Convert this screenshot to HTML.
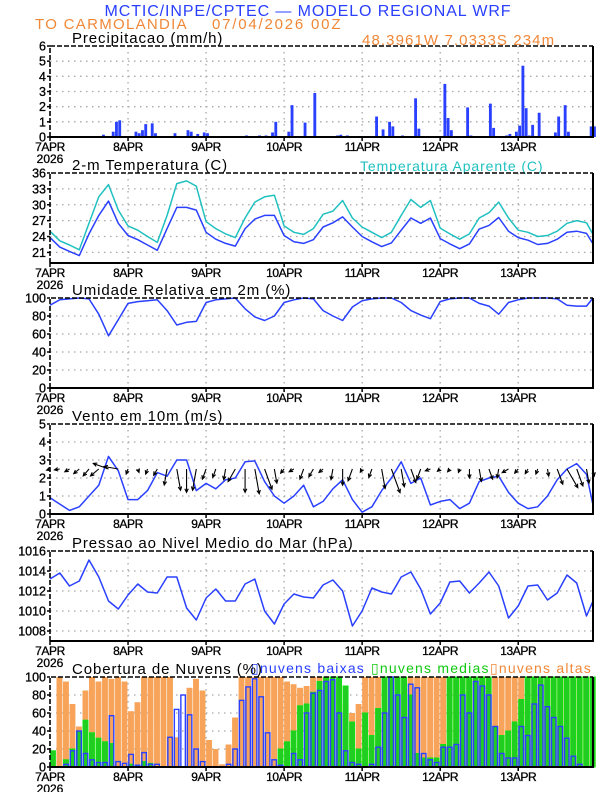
<!DOCTYPE html>
<html><head><meta charset="utf-8">
<style>
html,body{margin:0;padding:0;background:#fff;}
svg{display:block;font-family:"Liberation Sans",sans-serif;}
</style></head>
<body>
<svg id="chart" width="612" height="792" viewBox="0 0 612 792" xmlns="http://www.w3.org/2000/svg">
<text x="308" y="16" font-size="16" fill="#2a40ff" text-anchor="middle" letter-spacing="0.9">MCTIC/INPE/CPTEC — MODELO REGIONAL WRF</text>
<text x="35" y="29" font-size="15" fill="#f08838" letter-spacing="1.3">TO CARMOLANDIA</text>
<text x="212" y="29" font-size="15" fill="#f08838" letter-spacing="1.8">07/04/2026 00Z</text>
<text x="362" y="45" font-size="15" fill="#f08838" letter-spacing="1.1">48.3961W 7.0333S 234m</text>
<text x="360" y="171" font-size="14" fill="#20c0c0" letter-spacing="0.9">Temperatura Aparente (C)</text>
<text x="251" y="673" font-size="14" fill="#2a40ff" letter-spacing="1.2">▯nuvens baixas</text>
<text x="371" y="673" font-size="14" fill="#10c810" letter-spacing="1.2">▯nuvens medias</text>
<text x="490" y="673" font-size="14" fill="#f08838" letter-spacing="1.2">▯nuvens altas</text>
</svg>
<script>
// ---------- DATA ----------
const dayLabels = ["7APR","8APR","9APR","10APR","11APR","12APR","13APR"];
const precipHours = [15,16,19,20,21,26,27,28,29,31,32,38,41,42,43,45,47,48,60,64,66,68,69,73,74,78,81,88,89,91,100,102,104,105,108,112,113,116,121,122,123,128,129,135,136,137,140,141,143,144,145,146,147,148,150,154,155,156,158,159,166,167];
const precipVals  = [0.05,0.15,0.35,1.0,1.1,0.35,0.25,0.45,0.85,0.9,0.25,0.25,0.05,0.45,0.35,0.2,0.3,0.25,0.1,0.1,0.1,0.3,1.0,0.35,2.1,0.95,2.9,0.1,0.15,0.1,1.35,0.5,1.0,0.7,0.1,2.55,0.55,0.05,3.5,1.25,0.45,1.95,0.1,2.2,0.6,0.05,0.1,0.2,0.35,0.75,4.7,1.9,0.1,0.8,1.6,0.05,0.3,1.35,2.1,0.35,0.7,0.7];
const tempVals = [23.8,22.0,21.2,20.4,24.5,28.0,30.7,26.5,24.2,23.4,22.4,21.4,25.5,29.5,29.5,29.0,24.8,23.5,22.7,22.2,25.5,27.3,28.0,28.0,24.2,23.0,22.7,23.4,25.8,26.6,27.7,25.8,24.0,23.0,22.1,22.8,25.2,27.5,26.5,27.5,23.6,22.6,21.7,22.6,25.4,26.1,27.6,25.0,23.8,23.3,22.5,22.7,23.5,24.8,25.0,24.6,22.6];
const apparentVals = [25.0,23.2,22.4,21.5,26.5,31.5,33.8,29.0,26.0,25.2,24.0,22.9,28.0,34.0,34.5,33.5,26.8,25.5,24.5,23.8,27.5,30.5,31.5,31.8,26.0,24.8,24.4,25.5,28.2,28.8,30.8,27.5,25.8,24.8,23.8,24.8,28.0,31.0,29.5,30.8,25.6,24.5,23.5,24.5,27.5,28.5,30.5,27.5,25.2,24.8,24.0,24.2,25.0,26.5,27.0,26.6,24.4];
const rhVals = [92,98,99,100,99,82,58,76,94,96,97,98,86,70,73,74,95,98,99,100,88,79,75,80,95,98,100,99,86,80,75,90,97,99,100,100,95,86,81,77,96,99,100,100,94,91,82,95,98,100,100,100,99,92,91,91,100];
const windSpeed = [0.9,0.55,0.2,0.4,1.0,1.6,3.2,2.4,0.8,0.8,1.3,2.3,2.1,3.0,3.0,1.3,1.7,1.4,1.9,2.0,2.9,2.95,1.8,1.0,0.6,1.0,1.6,0.4,0.7,1.4,1.9,0.8,0.1,0.4,1.3,2.0,2.9,1.7,2.0,0.5,0.7,0.8,0.3,0.6,1.8,2.0,2.1,1.2,0.6,0.3,0.4,1.0,1.9,2.5,2.8,2.2,0.5];
const arrowLen = [0.2,0.3,0.3,0.4,0.5,0.6,0.9,0.8,0.3,0.2,0.3,0.4,0.9,1.2,1.3,1.2,0.6,0.5,0.6,0.8,1.3,1.4,1.2,0.8,0.3,0.3,0.6,0.5,0.3,0.6,0.9,0.7,0.2,0.5,1.1,1.4,1.0,0.8,0.6,0.3,0.2,0.2,0.2,0.5,0.7,0.6,0.5,0.4,0.3,0.3,0.3,0.4,0.9,1.2,1.0,0.8,0.4];
const arrowDir = [250,260,240,230,220,230,290,280,200,160,200,210,190,170,180,190,200,200,190,210,180,170,160,170,220,240,200,210,230,190,180,200,210,200,170,160,170,160,200,250,230,220,200,180,170,160,190,240,220,210,200,170,160,150,160,170,170];
const pressVals = [1013.2,1013.8,1012.5,1013.0,1015.1,1013.4,1011.0,1010.2,1011.6,1012.7,1011.9,1011.8,1013.4,1013.4,1010.3,1009.1,1011.3,1012.2,1011.0,1011.0,1012.7,1013.2,1010.0,1008.7,1010.7,1011.7,1011.4,1011.3,1012.6,1013.1,1012.0,1008.5,1010.0,1012.3,1011.9,1011.7,1013.4,1013.9,1012.2,1009.7,1010.8,1012.9,1013.0,1011.8,1012.8,1013.9,1012.5,1009.3,1010.5,1012.5,1012.6,1011.1,1011.8,1013.6,1012.8,1009.5,1011.0];
const cloudHigh = [0,100,95,70,45,85,100,95,100,98,100,95, 62,72,100,100,100,100,100,33,0,88,98,85, 30,20,3,25,55,100,100,100,100,100,100,100, 95,92,88,90,100,100,100,100,100,70,60,70, 100,100,100,100,100,100,100,100,100,100,100,100, 100,100,100,100,100,100,100,100,100,100,100,100, 100,100,100,100,100,100,100,100,100,100,100,100];
const cloudMid = [18,0,8,20,40,52,38,32,28,26,0,0, 3,2,6,4,0,0,0,0,0,0,0,0, 0,0,0,0,0,0,0,0,0,0,0,20, 28,40,68,70,83,95,100,100,100,90,50,20, 60,35,65,100,100,100,100,80,15,10,10,10, 25,100,100,100,100,100,100,100,45,35,40,50, 75,100,100,100,100,100,100,100,100,100,100,100];
const cloudLow = [0,0,3,18,40,15,8,5,5,57,6,4, 14,2,16,3,3,0,33,64,80,58,20,6, 0,0,0,3,20,74,89,98,78,38,8,2, 0,15,8,60,82,85,95,97,60,18,5,3, 0,3,22,60,100,80,55,92,88,15,8,5, 22,22,25,80,60,95,90,80,45,15,10,10, 45,35,70,91,67,55,45,32,12,3,0,0];

// ---------- LAYOUT ----------
const svg = document.getElementById('chart');
const NS = 'http://www.w3.org/2000/svg';
const X0 = 50, X1 = 593, HMAX = 167;
const xOf = h => X0 + h * (X1 - X0) / HMAX;
function mk(tag, attrs, parent) {
  const e = document.createElementNS(NS, tag);
  for (const k in attrs) e.setAttribute(k, attrs[k]);
  (parent || svg).appendChild(e);
  return e;
}
const panels = [
  {key:'precip', title:'Precipitacao (mm/h)', top:46, bot:137, min:0, max:6, ticks:[0,1,2,3,4,5,6]},
  {key:'temp', title:'2-m Temperatura (C)', top:173, bot:263, min:19, max:36, ticks:[21,24,27,30,33,36]},
  {key:'rh', title:'Umidade Relativa em 2m (%)', top:298, bot:388, min:0, max:100, ticks:[0,20,40,60,80,100]},
  {key:'wind', title:'Vento em 10m (m/s)', top:424, bot:514, min:0, max:5, ticks:[0,1,2,3,4,5]},
  {key:'press', title:'Pressao ao Nivel Medio do Mar (hPa)', top:551, bot:641, min:1007, max:1016, ticks:[1008,1010,1012,1014,1016]},
  {key:'cloud', title:'Cobertura de Nuvens (%)', top:677, bot:767, min:0, max:100, ticks:[0,20,40,60,80,100]}
];
function yFn(p){ return v => p.bot - (v - p.min) / (p.max - p.min) * (p.bot - p.top); }

panels.forEach(p => {
  const y = yFn(p);
  const g = mk('g', {});
  
  
  p.g = g; p.y = y;
  p.ticks.forEach(t => {
    if (t === p.max || t === p.min) return;
    const l = mk('line', {x1:X0, x2:X1, y1:y(t), y2:y(t), stroke:'#a8a8a8', 'stroke-dasharray':'1.5,4.5', 'stroke-width':1.3}, g);
    
    
  });
  dayLabels.forEach((d, i) => {
    if (i === 0) return;
    const l = mk('line', {x1:xOf(i*24), x2:xOf(i*24), y1:p.top, y2:p.bot, stroke:'#a8a8a8', 'stroke-dasharray':'1.5,4.5', 'stroke-width':1.3}, g);
    
    
  });
  p.ticks.forEach(t => {
    const tx = mk('text', {x:46, y:y(t)+4.5, 'font-size':12.5, 'text-anchor':'end', fill:'#000', stroke:'#000', 'stroke-width':0.3}, g);
    tx.textContent = t;
    
    
    const tk = mk('line', {x1:X0-3, x2:X0, y1:y(t), y2:y(t), stroke:'#000', 'stroke-width':1.5}, g);
    
    
  });
  dayLabels.forEach((d, i) => {
    const tx = mk('text', {x:xOf(i*24), y:p.bot+14, 'font-size':12, 'text-anchor':'middle', fill:'#000', stroke:'#000', 'stroke-width':0.3, 'letter-spacing':'-0.4'}, g);
    tx.textContent = d;
    
    
    const tk = mk('line', {x1:xOf(i*24), x2:xOf(i*24), y1:p.bot, y2:p.bot+4, stroke:'#000', 'stroke-width':1.5}, g);
    
    
  });
  const yr = mk('text', {x:X0, y:p.bot+26, 'font-size':12, 'text-anchor':'middle', fill:'#000', stroke:'#000', 'stroke-width':0.3}, g);
  yr.textContent = '2026';
  
  
  const ti = mk('text', {x:72, y:p.top-3, 'font-size':15, fill:'#000', 'letter-spacing':'0.9'}, g);
  ti.textContent = p.title;
  
  
});

const P = {}; panels.forEach(p => P[p.key] = p);

{
  const p = P.cloud, y = p.y, bw = 2 * (X1 - X0) / HMAX;
  cloudHigh.forEach((v, i) => {
    if (!v) return;
    const r = mk('rect', {x:xOf(i*2), y:y(v), width:bw-0.6, height:p.bot-y(v), fill:'#f7a45a'}, p.g);
    
    
  });
  cloudMid.forEach((v, i) => {
    if (!v) return;
    const r = mk('rect', {x:xOf(i*2)+0.5, y:y(v), width:bw-1.6, height:p.bot-y(v), fill:'#22cc22', stroke:'#10e010', 'stroke-width':1}, p.g);
    
    
  });
  cloudLow.forEach((v, i) => {
    if (!v) return;
    const r = mk('rect', {x:xOf(i*2)+0.8, y:y(v), width:bw-2, height:p.bot-y(v), fill:'none', stroke:'#2a40ff', 'stroke-width':1.4}, p.g);
    
    
  });
}
{
  const p = P.precip, y = p.y, bw = (X1 - X0) / HMAX;
  precipVals.forEach((v, i) => {
    const r = mk('rect', {x:xOf(precipHours[i]), y:y(v), width:bw-0.4, height:p.bot-y(v), fill:'#2a40ff'}, p.g);
    
    
  });
}
function line(p, vals, color, name) {
  const pts = vals.map((v, i) => xOf(Math.min(i*3, HMAX)).toFixed(1) + ',' + p.y(v).toFixed(1)).join(' ');
  const l = mk('polyline', {points:pts, fill:'none', stroke:color, 'stroke-width':1.5, 'stroke-linejoin':'round'}, p.g);
  
  
}
line(P.temp, apparentVals, '#20c0c0', 'apparent-temp-line');
line(P.temp, tempVals, '#2a40ff', 'temp-line');
line(P.rh, rhVals, '#2a40ff', 'rh-line');
line(P.wind, windSpeed, '#2a40ff', 'wind-speed-line');
line(P.press, pressVals, '#2a40ff', 'pressure-line');
{
  const p = P.wind, y = p.y, unit = (p.bot - p.top) / (p.max - p.min);
  arrowLen.forEach((L, i) => {
    const x = xOf(Math.min(i*3, HMAX)), y0 = y(2.5);
    const a = arrowDir[i] * Math.PI / 180;
    const dx = Math.sin(a) * L * unit, dy = -Math.cos(a) * L * unit;
    const x2 = x + dx, y2 = y0 + dy;
    const ah = Math.atan2(dy, dx);
    const hx1 = x2 - 4*Math.cos(ah - 0.45), hy1 = y2 - 4*Math.sin(ah - 0.45);
    const hx2 = x2 - 4*Math.cos(ah + 0.45), hy2 = y2 - 4*Math.sin(ah + 0.45);
    const pa = mk('path', {d:`M${x},${y0}L${x2},${y2}M${hx1},${hy1}L${x2},${y2}L${hx2},${hy2}`, stroke:'#000', 'stroke-width':1.1, fill:'none'}, p.g);
    
    
  });
}
panels.forEach(p => {
  const a = mk('path', {d:`M${X0},${p.bot}V${p.top}H${X1}`, stroke:'#000', 'stroke-width':1.6, 'stroke-dasharray':'5,2', fill:'none'}, p.g);
  
  
  const b = mk('path', {d:`M${X1},${p.top}V${p.bot}H${X0}`, stroke:'#000', 'stroke-width':2, fill:'none'}, p.g);
  
  
});
</script>
</body></html>
